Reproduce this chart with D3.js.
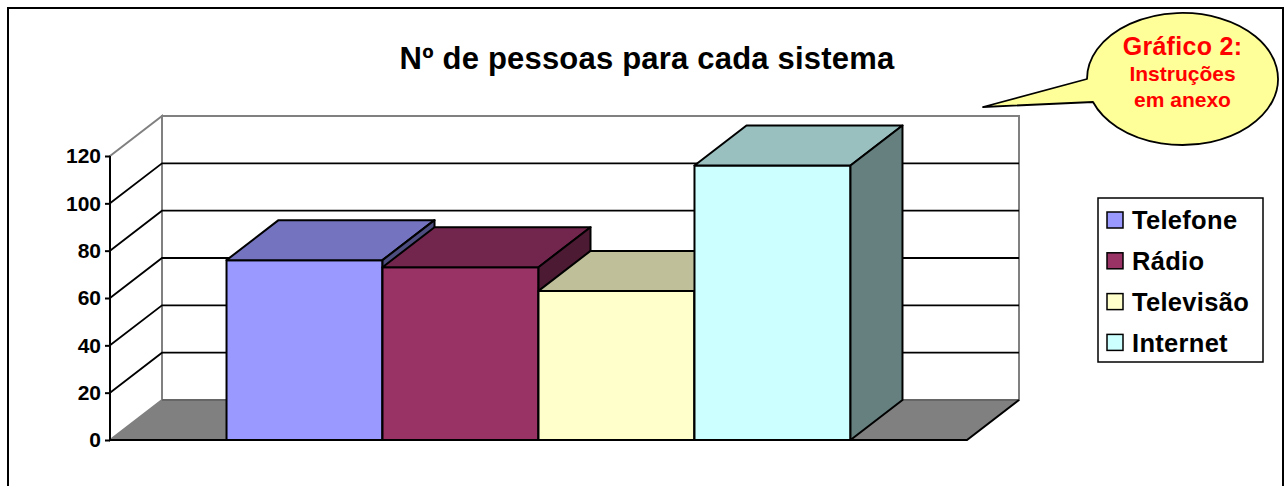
<!DOCTYPE html>
<html>
<head>
<meta charset="utf-8">
<script src="https://cdn.jsdelivr.net/npm/d3@7"></script>
<style>
  body { margin: 0; background: #fff; }
  svg { display: block; font-family: "Liberation Sans", Arial, sans-serif; font-weight: bold; }
</style>
</head>
<body>
<svg id="chart" width="1287" height="486"></svg>
<script>
(function(d3) {

  // Data
  var series = ["Telefone", "Rádio", "Televisão", "Internet"];
  var values = [76, 73, 63, 116];
  var colors = ["#9999FF", "#993366", "#FFFFCC", "#CCFFFF"];
  var ticks = [0, 20, 40, 60, 80, 100, 120];

  var svg = d3.select("#chart");

  // Front plane of the plot and depth offset of the 3D box
  var depth = { dx: 52, dy: -40 };

  var x = d3.scaleBand()
    .domain(series)
    .range([110, 967])
    .paddingInner(0)
    .paddingOuter(0.747)
    ;

  var y = d3.scaleLinear()
    .domain([0, 120])
    .range([440, 156])
    ;

  var x0 = x.range()[0], x1 = x.range()[1];
  var line = d3.line();

  function back(p) { return [p[0] + depth.dx, p[1] + depth.dy]; }

  function shade(c, k) {
    var r = d3.rgb(c);
    return d3.rgb(r.r * k, r.g * k, r.b * k).toString();
  }

  // Outer frame
  svg.append("rect")
    .attr("x", 8).attr("y", 8)
    .attr("width", 1275).attr("height", 500)
    .attr("fill", "#fff")
    .attr("stroke", "#000")
    .attr("stroke-width", 2)
    ;

  //** Walls **//

  var top = y(120), base = y(0);

  // Back wall
  svg.append("path")
    .attr("d", line([back([x0, top]), back([x1, top]), back([x1, base]), back([x0, base])]) + "Z")
    .attr("fill", "#fff")
    .attr("stroke", "#808080")
    .attr("stroke-width", 2)
    ;

  // Side wall
  svg.append("path")
    .attr("d", line([[x0, top], back([x0, top]), back([x0, base]), [x0, base]]) + "Z")
    .attr("fill", "#fff")
    .attr("stroke", "#808080")
    .attr("stroke-width", 2)
    ;

  // Floor
  svg.append("path")
    .attr("d", line([[x0, base], [x1, base], back([x1, base]), back([x0, base])]) + "Z")
    .attr("fill", "#808080")
    ;
  svg.append("path")
    .attr("d", line([back([x0, base]), back([x1, base])]))
    .attr("stroke", "#666")
    .attr("stroke-width", 2)
    .attr("fill", "none")
    ;
  svg.append("path")
    .attr("d", line([[x0, base], [x1, base], back([x1, base])]))
    .attr("stroke", "#000")
    .attr("stroke-width", 2)
    .attr("fill", "none")
    ;

  // Gridlines on side and back walls
  var grid = svg.append("g")
    .attr("fill", "none")
    .attr("stroke", "#000")
    .attr("stroke-width", 1.8)
    ;

  ticks.filter(function(t) { return t > 0 && t < 120; }).forEach(function(t) {
    grid.append("path")
      .attr("d", line([[x0, y(t)], back([x0, y(t)]), back([x1, y(t)])]))
      ;
  });

  //** Bars **//

  var bars = svg.selectAll("g.bar")
    .data(series.map(function(s, i) { return { name: s, value: values[i], color: colors[i] }; }))
    .enter().append("g")
    .attr("class", "bar")
    .attr("stroke", "#000")
    .attr("stroke-width", 2)
    .attr("stroke-linejoin", "round")
    ;

  bars.append("path")
    .attr("fill", function(d) { return d.color; })
    .attr("d", function(d) {
      var l = x(d.name), r = l + x.bandwidth();
      return line([[l, y(d.value)], [r, y(d.value)], [r, base], [l, base]]) + "Z";
    });

  bars.append("path")
    .attr("fill", function(d) { return shade(d.color, 0.75); })
    .attr("d", function(d) {
      var l = x(d.name), r = l + x.bandwidth(), t = y(d.value);
      return line([[l, t], [r, t], back([r, t]), back([l, t])]) + "Z";
    });

  bars.append("path")
    .attr("fill", function(d) { return shade(d.color, 0.5); })
    .attr("d", function(d) {
      var r = x(d.name) + x.bandwidth(), t = y(d.value);
      return line([[r, t], back([r, t]), back([r, base]), [r, base]]) + "Z";
    });

  //** Value axis **//

  svg.append("path")
    .attr("d", line([[x0, top], [x0, base]]))
    .attr("stroke", "#000")
    .attr("stroke-width", 2)
    ;

  var axis = svg.append("g")
    .attr("transform", "translate(" + x0 + ",0)")
    .call(d3.axisLeft(y).tickValues(ticks).tickSize(5).tickPadding(4).tickSizeOuter(0))
    ;
  axis.select(".domain").remove();
  axis.selectAll("line").attr("stroke", "#000").attr("stroke-width", 2);
  axis.selectAll("text")
    .attr("fill", "#000")
    .style("font-family", "'Liberation Sans', Arial, sans-serif")
    .style("font-weight", "bold")
    .style("font-size", "21px")
    ;

  //** Title **//

  svg.append("text")
    .attr("x", 647)
    .attr("y", 69)
    .attr("text-anchor", "middle")
    .style("font-size", "31px")
    .style("letter-spacing", "0.2px")
    .text("Nº de pessoas para cada sistema")
    ;

  //** Legend **//

  var legend = svg.append("g");

  legend.append("rect")
    .attr("x", 1098).attr("y", 198)
    .attr("width", 165).attr("height", 164)
    .attr("fill", "#fff")
    .attr("stroke", "#000")
    .attr("stroke-width", 1.5)
    ;

  var items = legend.selectAll("g.item")
    .data(series)
    .enter().append("g")
    .attr("class", "item")
    .attr("transform", function(d, i) { return "translate(1107," + (220 + i * 40.8) + ")"; })
    ;

  items.append("rect")
    .attr("x", 0).attr("y", -8)
    .attr("width", 16).attr("height", 16)
    .attr("fill", function(d, i) { return colors[i]; })
    .attr("stroke", "#000")
    .attr("stroke-width", 1.5)
    ;

  items.append("text")
    .attr("x", 25)
    .attr("y", 0)
    .attr("dy", "0.36em")
    .style("font-size", "25.5px")
    .style("letter-spacing", "0.3px")
    .text(function(d) { return d; })
    ;

  //** Callout **//

  var cx = 1182.5, cy = 79, rx = 95.5, ry = 66;

  svg.append("path")
    .attr("d", "M983,107 L1087,79 A" + rx + "," + ry + " 0 1 1 1093,102 Z")
    .attr("fill", "#FFFF99")
    .attr("stroke", "#000")
    .attr("stroke-width", 1.8)
    .attr("stroke-linejoin", "round")
    ;

  var note = svg.append("g")
    .attr("fill", "#FF0000")
    .attr("text-anchor", "middle")
    ;
  note.append("text").attr("x", cx).attr("y", 55)
    .style("font-size", "25px").style("letter-spacing", "0.3px").text("Gráfico 2:");
  note.append("text").attr("x", cx).attr("y", 81)
    .style("font-size", "21px").text("Instruções");
  note.append("text").attr("x", cx).attr("y", 107)
    .style("font-size", "21px").text("em anexo");

})(d3);
</script>
</body>
</html>
